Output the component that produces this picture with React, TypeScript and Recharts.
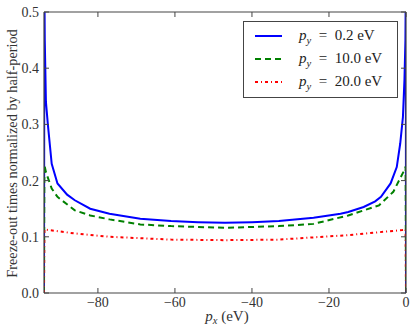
import React from 'react';
import { LineChart, Line, XAxis, YAxis, Legend, Label } from 'recharts';

// p_x sample points (eV) and freeze-out times for each p_y
const pxBlue = [-94, -93.9, -93.8, -93.5, -93, -92, -90.5, -88, -86, -82, -77, -69, -61, -54, -47, -40, -33, -24, -17, -15, -11, -8, -6.5, -4, -2.4, -1.5, -0.8, -0.4, -0.15, -0.05, 0];
const tBlue = [0, 0.55, 0.45, 0.34, 0.3, 0.23, 0.195, 0.175, 0.165, 0.15, 0.141, 0.132, 0.128, 0.126, 0.125, 0.126, 0.128, 0.134, 0.141, 0.144, 0.153, 0.163, 0.171, 0.195, 0.224, 0.266, 0.313, 0.38, 0.45, 0.55, 0];

const pxGreen = [-94, -93.9, -93.5, -92, -90.5, -86, -82, -77, -69, -61, -47, -33, -24, -15, -7, -3.3, -0.7, -0.1, 0];
const tGreen = [0, 0.228, 0.215, 0.186, 0.171, 0.147, 0.138, 0.131, 0.122, 0.119, 0.116, 0.119, 0.123, 0.138, 0.156, 0.18, 0.215, 0.225, 0];

const pxRed = [-94, -93.9, -86, -77, -61, -47, -33, -15, -1, -0.1, 0];
const tRed = [0, 0.113, 0.106, 0.1, 0.095, 0.094, 0.095, 0.103, 0.112, 0.113, 0];

const xTicks = [-80, -60, -40, -20, 0];
const yTicks = [0, 0.1, 0.2, 0.3, 0.4, 0.5];

const series = [
  { name: '0.2', color: '#0000ff', dash: undefined, px: pxBlue, t: tBlue },
  { name: '10.0', color: '#008000', dash: '6 4', px: pxGreen, t: tGreen },
  { name: '20.0', color: '#ff0000', dash: '3 3 1 3', px: pxRed, t: tRed },
];

const FONT = '"Liberation Serif", serif';
const INK = '#333';
const FRAME = '#444';

const fmtX = (v: number) => (v < 0 ? `\u2212${Math.abs(v)}` : `${v}`);

const BottomTick = ({ x, y, payload }: any) => (
  <g>
    <line x1={x} y1={y} x2={x} y2={y - 5} stroke={FRAME} />
    <text x={x} y={y + 14} textAnchor="middle" fontFamily={FONT} fontSize={14} fill={INK}>
      {fmtX(payload.value)}
    </text>
  </g>
);

const TopTick = ({ x, y }: any) => <line x1={x} y1={y} x2={x} y2={y + 5} stroke={FRAME} />;

const LeftTick = ({ x, y, payload }: any) => (
  <g>
    <line x1={x} y1={y} x2={x + 5} y2={y} stroke={FRAME} />
    <text x={x - 5} y={y + 5} textAnchor="end" fontFamily={FONT} fontSize={14} fill={INK}>
      {payload.value.toFixed(1)}
    </text>
  </g>
);

const RightTick = ({ x, y }: any) => <line x1={x} y1={y} x2={x - 5} y2={y} stroke={FRAME} />;

const YLabel = ({ viewBox }: any) => {
  const cx = viewBox.x + 7;
  const cy = viewBox.y + viewBox.height / 2 + 1;
  return (
    <text
      x={cx}
      y={cy}
      transform={`rotate(-90 ${cx} ${cy})`}
      textAnchor="middle"
      fontFamily={FONT}
      fontSize={14.3}
      fill={INK}
    >
      Freeze-out times normalized by half-period
    </text>
  );
};

const XLabel = ({ viewBox }: any) => {
  const cx = viewBox.x + viewBox.width / 2 + 2;
  return (
    <text x={cx} y={viewBox.y + 28} textAnchor="middle" fontFamily={FONT} fontSize={15} fill={INK}>
      <tspan fontStyle="italic">p</tspan>
      <tspan fontSize={10.5} dy={3} fontStyle="italic">x</tspan>
      <tspan dy={-3}> (eV)</tspan>
    </text>
  );
};

const renderLegend = () => (
  <div
    style={{
      border: `1px solid ${FRAME}`,
      background: '#fff',
      padding: '2px 0 4px 0',
      width: 155,
      boxSizing: 'border-box',
      fontFamily: FONT,
      fontSize: 15,
      color: '#222',
    }}
  >
    {series.map((s) => (
      <div key={s.name} style={{ display: 'flex', alignItems: 'center', height: 23 }}>
        <svg width={55} height={10} style={{ flex: 'none' }}>
          <line x1={11} y1={5} x2={38} y2={5} stroke={s.color} strokeWidth={2} strokeDasharray={s.dash} />
        </svg>
        <span>
          <i>p</i>
          <sub style={{ fontSize: 10.5, fontStyle: 'italic', lineHeight: 0 }}>y</sub>
          {'\u2002=\u2002'}
          {`${s.name} eV`}
        </span>
      </div>
    ))}
  </div>
);

export default function App() {
  return (
    <div style={{ position: 'absolute', left: 0, top: 0, background: '#fff' }}>
      <LineChart width={416} height={334} margin={{ top: 11, right: 9, left: 10, bottom: 11 }}>
        <XAxis
          xAxisId="b"
          dataKey="x"
          type="number"
          domain={[-94, 0]}
          ticks={xTicks}
          allowDataOverflow
          height={30}
          tickSize={0}
          tickMargin={0}
          tickLine={false}
          axisLine={{ stroke: FRAME, strokeWidth: 1.2 }}
          tick={<BottomTick />}
          interval={0}
        >
          <Label content={<XLabel />} />
        </XAxis>
        <XAxis
          xAxisId="t"
          orientation="top"
          dataKey="x"
          type="number"
          domain={[-94, 0]}
          ticks={xTicks}
          allowDataOverflow
          height={1}
          tickSize={0}
          tickMargin={0}
          tickLine={false}
          axisLine={{ stroke: FRAME, strokeWidth: 1.2 }}
          tick={<TopTick />}
          interval={0}
        />
        <YAxis
          yAxisId="l"
          type="number"
          domain={[0, 0.5]}
          ticks={yTicks}
          allowDataOverflow
          width={34}
          tickSize={0}
          tickMargin={0}
          tickLine={false}
          axisLine={{ stroke: FRAME, strokeWidth: 1.2 }}
          tick={<LeftTick />}
          interval={0}
        >
          <Label content={<YLabel />} />
        </YAxis>
        <YAxis
          yAxisId="r"
          orientation="right"
          type="number"
          domain={[0, 0.5]}
          ticks={yTicks}
          allowDataOverflow
          width={1}
          tickSize={0}
          tickMargin={0}
          tickLine={false}
          axisLine={{ stroke: FRAME, strokeWidth: 1.2 }}
          tick={<RightTick />}
          interval={0}
        />
        {series.map((s) => (
          <Line
            key={s.name}
            xAxisId="b"
            yAxisId="l"
            name={s.name}
            data={s.px.map((x, i) => ({ x, v: s.t[i] }))}
            dataKey="v"
            type="linear"
            stroke={s.color}
            strokeWidth={2}
            strokeDasharray={s.dash}
            dot={false}
            activeDot={false}
            isAnimationActive={false}
          />
        ))}
        <Legend
          layout="horizontal"
          verticalAlign="middle"
          align="center"
          content={renderLegend}
          wrapperStyle={{ position: 'absolute', top: 21, left: 243, width: 155 }}
        />
      </LineChart>
    </div>
  );
}
